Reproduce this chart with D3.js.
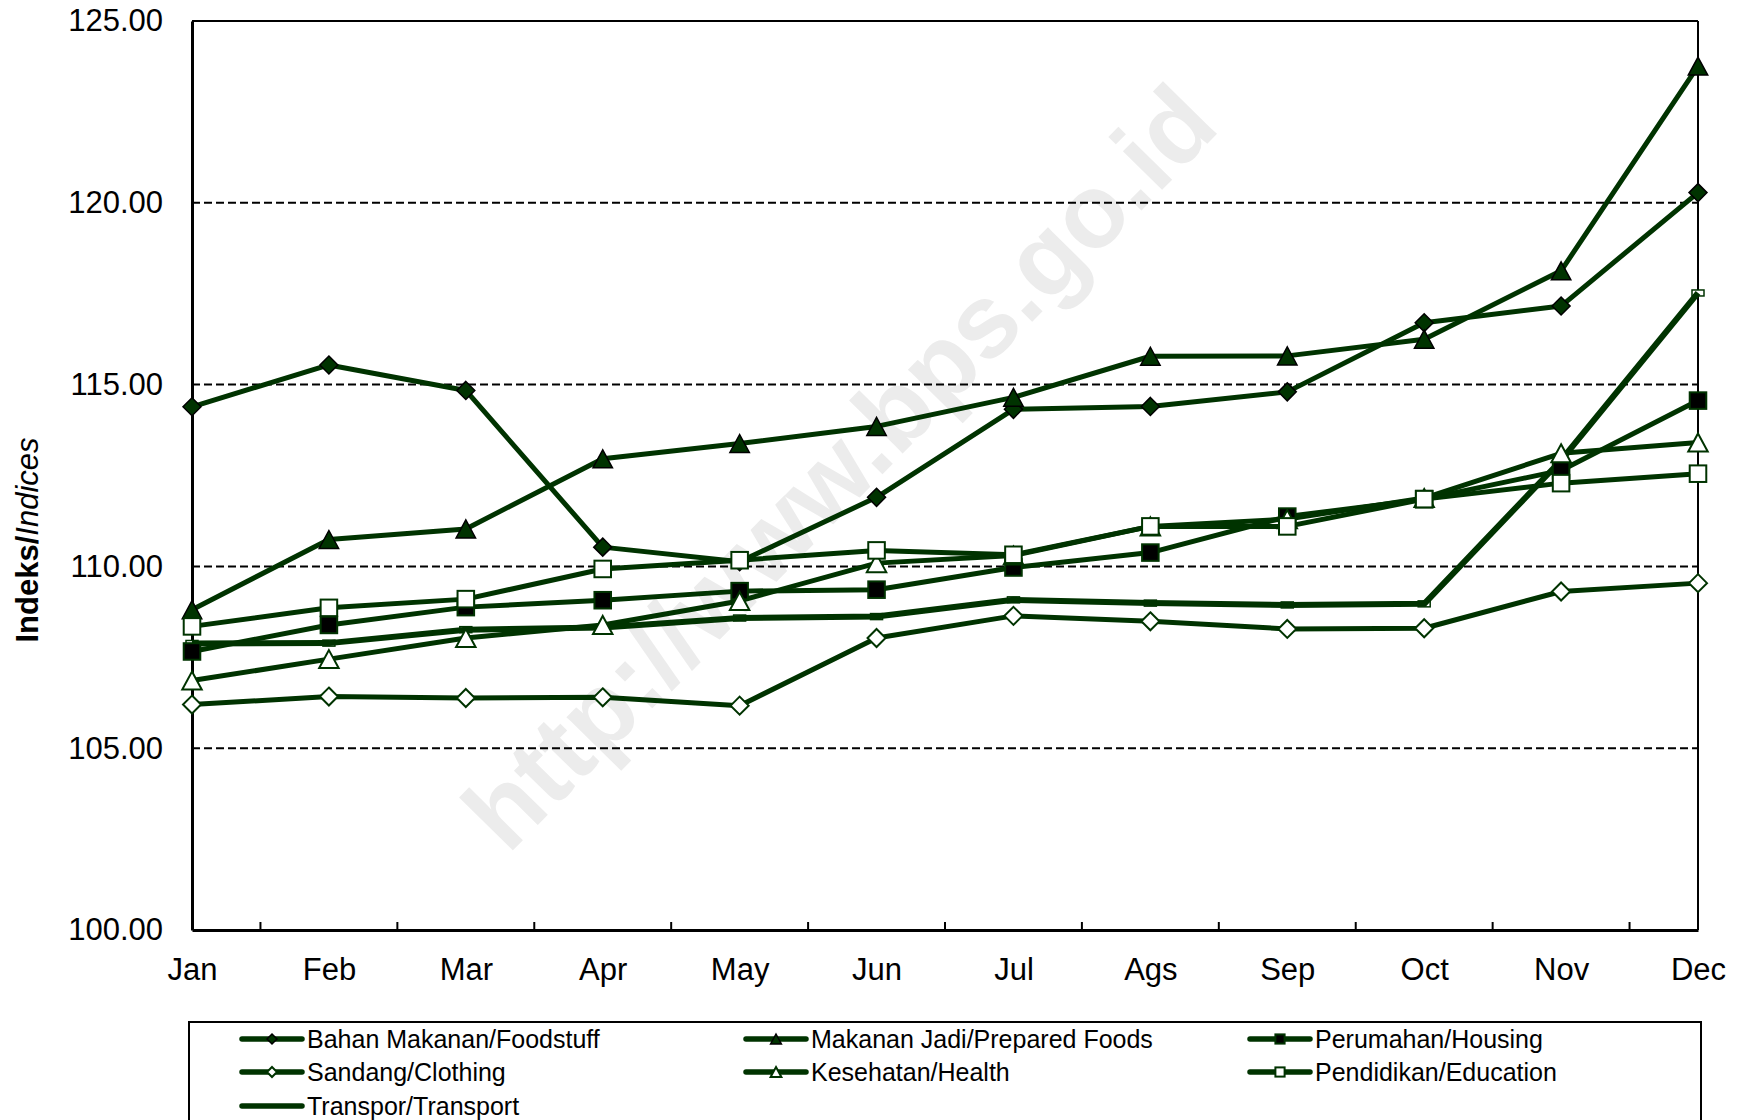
<!DOCTYPE html>
<html><head><meta charset="utf-8">
<script src="https://cdn.jsdelivr.net/npm/d3@7"></script>
<style>
html,body{margin:0;padding:0;background:#fff;}
svg{display:block;font-family:"Liberation Sans",Arial,sans-serif;}
</style></head>
<body><svg id="c" width="1743" height="1120"></svg>
<script>
const months = ["Jan","Feb","Mar","Apr","May","Jun","Jul","Ags","Sep","Oct","Nov","Dec"];
const yTicks = [100,105,110,115,120,125];
const foodstuff = [114.39,115.54,114.84,110.53,110.13,111.90,114.32,114.40,114.80,116.70,117.16,120.28];
const preparedFoods = [108.81,110.74,111.03,112.96,113.38,113.85,114.65,115.78,115.79,116.25,118.13,123.76];
const housing = [107.66,108.39,108.88,109.07,109.32,109.36,109.97,110.38,111.37,111.85,112.64,114.56];
const clothing = [106.20,106.42,106.38,106.40,106.17,108.03,108.64,108.49,108.28,108.30,109.31,109.54];
const health = [106.86,107.45,108.03,108.39,109.05,110.09,110.30,111.10,111.30,111.88,113.11,113.41];
const education = [108.35,108.86,109.10,109.93,110.17,110.44,110.32,111.10,111.10,111.85,112.29,112.55];
const transport = [107.88,107.89,108.26,108.32,108.58,108.62,109.08,108.99,108.94,108.97,112.92,117.52];
const seriesNames = ["Bahan Makanan/Foodstuff","Makanan Jadi/Prepared Foods","Perumahan/Housing",
  "Sandang/Clothing","Kesehatan/Health","Pendidikan/Education","Transpor/Transport"];
const seriesValues = [foodstuff, preparedFoods, housing, clothing, health, education, transport];
const markerTypes = ["diamondFilled","triangleFilled","squareFilled","diamondOpen","triangleOpen","squareOpen","none"];

const G = "#003300";
const svg = d3.select("#c");
const L = 192, R = 1698, T = 21, B = 930;
const x = d3.scalePoint().domain(months).range([L, R]);
const y = d3.scaleLinear().domain([100,125]).range([B, T]);

// watermark
svg.append("text").attr("x", 839).attr("y", 467)
  .attr("transform", "rotate(-45.5,839,467)")
  .attr("text-anchor","middle").attr("dominant-baseline","central")
  .attr("font-size", 104).attr("font-weight","bold").attr("fill","#ececec")
  .text("http://www.bps.go.id");

// gridlines
svg.append("g").selectAll("line").data(yTicks.filter(v => v > 100 && v < 125)).join("line")
  .attr("x1", L).attr("x2", R).attr("y1", d => y(d)).attr("y2", d => y(d))
  .attr("stroke","#000").attr("stroke-width",2).attr("stroke-dasharray","8,4");

// plot border top/right
svg.append("line").attr("x1",L).attr("x2",R).attr("y1",T).attr("y2",T).attr("stroke","#000").attr("stroke-width",2);
svg.append("line").attr("x1",R).attr("x2",R).attr("y1",T).attr("y2",B).attr("stroke","#000").attr("stroke-width",2);

// y axis
const yAxis = svg.append("g").attr("transform",`translate(${L},0)`)
  .call(d3.axisLeft(y).tickValues(yTicks).tickFormat(d3.format(".2f")).tickSize(0).tickPadding(29));
yAxis.select(".domain").attr("stroke","#000").attr("stroke-width",3);
yAxis.selectAll("text").attr("font-size",31).attr("fill","#000").attr("font-family","'Liberation Sans',Arial,sans-serif");

// x axis
const xAxis = svg.append("g").attr("transform",`translate(0,${B})`)
  .call(d3.axisBottom(x).tickSize(0).tickPadding(28));
xAxis.select(".domain").attr("stroke","#000").attr("stroke-width",3);
xAxis.selectAll("text").attr("font-size",31).attr("fill","#000").attr("font-family","'Liberation Sans',Arial,sans-serif");
// ticks between categories, pointing inward
const mids = months.slice(0,-1).map((m,i) => (x(m) + x(months[i+1]))/2);
svg.append("g").selectAll("line").data(mids).join("line")
  .attr("x1", d=>d).attr("x2", d=>d).attr("y1", B).attr("y2", B-8)
  .attr("stroke","#000").attr("stroke-width",2);

// y title
const yt = svg.append("text").attr("transform","translate(38,540) rotate(-90)")
  .attr("text-anchor","middle").attr("font-size",31).attr("fill","#000");
yt.append("tspan").attr("font-weight","bold").text("Indeks/");
yt.append("tspan").attr("font-style","italic").text("Indices");

// marker drawer
function marker(g, type, cx, cy, s) {
  const h = s/2;
  if (type.startsWith("diamond")) {
    g.append("path").attr("d", `M${cx},${cy-h}L${cx+h},${cy}L${cx},${cy+h}L${cx-h},${cy}Z`)
      .attr("fill", type==="diamondFilled"?G:"#fff").attr("stroke", type==="diamondFilled"?"#000":G).attr("stroke-width", type==="diamondFilled"?1.5:2);
  } else if (type.startsWith("triangle")) {
    const w = s*1.08;
    g.append("path").attr("d", `M${cx},${cy-h}L${cx+w/2},${cy+h}L${cx-w/2},${cy+h}Z`)
      .attr("fill", type==="triangleFilled"?G:"#fff").attr("stroke", type==="triangleFilled"?"#000":G).attr("stroke-width", type==="triangleFilled"?1.5:2);
  } else if (type.startsWith("square")) {
    const q = s*0.92/2;
    g.append("rect").attr("x",cx-q).attr("y",cy-q).attr("width",2*q).attr("height",2*q)
      .attr("fill", type==="squareFilled"?"#000":"#fff").attr("stroke", G).attr("stroke-width",2);
  }
}

const line = d3.line().x((d,i)=>x(months[i])).y(d=>y(d));

// transport small dash markers (beneath lines)
const tm = svg.append("g");
transport.forEach((v,i)=>{
  tm.append("rect").attr("x", x(months[i])-6).attr("y", y(v)-3).attr("width",12).attr("height",6)
    .attr("fill","#fff").attr("stroke",G).attr("stroke-width",1.5);
});

// lines
const lg = svg.append("g");
seriesValues.forEach((vals, k) => {
  lg.append("path").datum(vals).attr("d", line).attr("fill","none")
    .attr("stroke", G).attr("stroke-width", k===6?6:5).attr("stroke-linejoin","round");
});
// markers
const mg = svg.append("g");
seriesValues.forEach((vals, k) => {
  if (markerTypes[k] === "none") return;
  vals.forEach((v,i) => marker(mg, markerTypes[k], x(months[i]), y(v), 18));
});

// legend
svg.append("rect").attr("x",189).attr("y",1022).attr("width",1512).attr("height",120)
  .attr("fill","none").attr("stroke","#000").attr("stroke-width",2);
const colX = [242, 746, 1250];
const rowY = [1039, 1072, 1106];
const leg = svg.append("g");
seriesNames.forEach((name,k) => {
  const cx0 = colX[k%3], cy = rowY[Math.floor(k/3)];
  leg.append("line").attr("x1",cx0).attr("x2",cx0+60).attr("y1",cy).attr("y2",cy)
    .attr("stroke",G).attr("stroke-width",5.5).attr("stroke-linecap","round");
  if (markerTypes[k] !== "none") marker(leg, markerTypes[k], cx0+30, cy, 10);
  leg.append("text").attr("x", cx0+65).attr("y", cy).attr("dominant-baseline","central")
    .attr("font-size",25).attr("fill","#000").text(name);
});
</script></body></html>
